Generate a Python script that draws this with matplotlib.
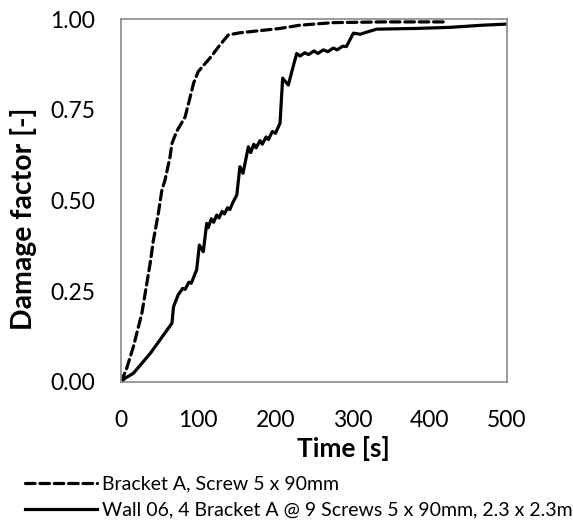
import matplotlib
matplotlib.use("Agg")
import matplotlib.pyplot as plt
from matplotlib.ticker import FormatStrFormatter

plt.rcParams['font.family'] = ['Lato', 'DejaVu Sans']

# Bracket A, Screw 5 x 90mm (dashed)
bracket_t = [0, 7, 16, 27, 38, 42, 48, 53, 57, 63.5, 66, 72, 83, 89, 94, 100,
             115, 128, 139, 154, 180, 206, 232, 275, 340, 420]
bracket_d = [0, 0.035, 0.097, 0.189, 0.33, 0.391, 0.46, 0.529, 0.556, 0.62, 0.657,
             0.69, 0.73, 0.78, 0.823, 0.855, 0.892, 0.928, 0.956, 0.962, 0.968,
             0.974, 0.983, 0.99, 0.992, 0.992]

# Wall 06 (solid)
wall_t = [0, 5, 16, 38, 66, 68, 74, 80, 83, 88, 91, 98, 101.5, 106.6, 111, 113,
          117, 120, 124, 127, 131, 134, 138, 141, 145, 150, 154, 158, 165, 168,
          172, 175, 180, 183, 188, 191, 196, 200, 206, 209.4, 216.7, 223, 227.6,
          232, 238, 243, 250, 255, 262, 268, 275, 280, 287, 292, 301, 310, 314,
          331, 383, 426, 469, 500]
wall_d = [0, 0.01, 0.024, 0.079, 0.162, 0.207, 0.24, 0.258, 0.255, 0.275, 0.272,
          0.309, 0.377, 0.359, 0.437, 0.425, 0.45, 0.44, 0.46, 0.452, 0.47, 0.463,
          0.48, 0.475, 0.495, 0.515, 0.593, 0.575, 0.648, 0.632, 0.655, 0.645,
          0.665, 0.655, 0.675, 0.668, 0.69, 0.685, 0.713, 0.837, 0.818, 0.869,
          0.905, 0.898, 0.907, 0.902, 0.912, 0.905, 0.915, 0.91, 0.92, 0.915,
          0.925, 0.924, 0.961, 0.958, 0.961, 0.972, 0.974, 0.977, 0.983, 0.986]

labels = ["Bracket A, Screw 5 x 90mm",
          "Wall 06, 4 Bracket A @ 9 Screws 5 x 90mm, 2.3 x 2.3m"]
xticks = [0, 100, 200, 300, 400, 500]
yticks = [0.0, 0.25, 0.5, 0.75, 1.0]

W, H, DPI = 573, 522, 100
fig = plt.figure(figsize=(W / DPI, H / DPI), dpi=DPI)
ax = fig.add_axes([121 / W, 1 - 382 / H, 386 / W, 363 / H])

l1, = ax.plot(bracket_t, bracket_d, color='black', lw=2.3, linestyle=(0, (3, 1.5)),
              dash_capstyle='round')
l2, = ax.plot(wall_t, wall_d, color='black', lw=2.3, solid_joinstyle='round')

ax.set_xlim(0, 500)
ax.set_ylim(0, 1)
ax.set_xticks(xticks)
ax.set_yticks(yticks)
ax.yaxis.set_major_formatter(FormatStrFormatter('%.2f'))
ax.tick_params(length=0, labelsize=16.5, colors='black')
ax.tick_params(axis='y', pad=18.7)
ax.tick_params(axis='x', pad=20)
for s in ax.spines.values():
    s.set_color('#898989')
    s.set_linewidth(1.2)

r = fig.canvas.get_renderer()
px2pt = 72.0 / DPI

# x label "Time [s]": spans x 297..390 px, cap top at y≈438 px
xl = ax.set_xlabel('Time [s]', fontsize=18, fontweight='bold')
w = xl.get_window_extent(r).width
xl.set_fontsize(18 * 93.0 / w)
xl.set_va('baseline')
cap = 0.72 * xl.get_fontsize() / px2pt
base_y = 438 + cap
xl.set_ha('center')
ax.xaxis.set_label_coords((343.5 - 121) / 386, (382 - base_y) / 363)

# y label: spans y 107..330 px, centred at x≈24 px
yl = ax.set_ylabel('Damage factor [-]', fontsize=18, fontweight='bold')
h = yl.get_window_extent(r).height
yl.set_fontsize(18 * 223.0 / h)
yl.set_va('center')
ax.yaxis.set_label_coords((24 - 121) / 386, (382 - 218.5) / 363)

# legend: handle 25..97 px, text 102..571 px, row centres ~484 and ~510 px
leg = fig.legend([l1, l2], labels, fontsize=12, frameon=False)
tw = max(t.get_window_extent(r).width for t in leg.get_texts())
fs = 12 * (571 - 102) / tw
leg.remove()
fs_px = fs / px2pt
probe = fig.text(0, 0, labels[0], fontsize=fs)
th_px = probe.get_window_extent(r).height
probe.remove()
pitch = 26.0
leg = fig.legend([l1, l2], labels, loc='center left',
                 bbox_to_anchor=(25 / W, 1 - 497 / H),
                 frameon=False, fontsize=fs,
                 handlelength=72 / fs_px, handletextpad=5 / fs_px,
                 labelspacing=max((pitch - th_px) / fs_px, 0.0),
                 borderaxespad=0, borderpad=0)

fig.savefig('out.png', dpi=DPI)
